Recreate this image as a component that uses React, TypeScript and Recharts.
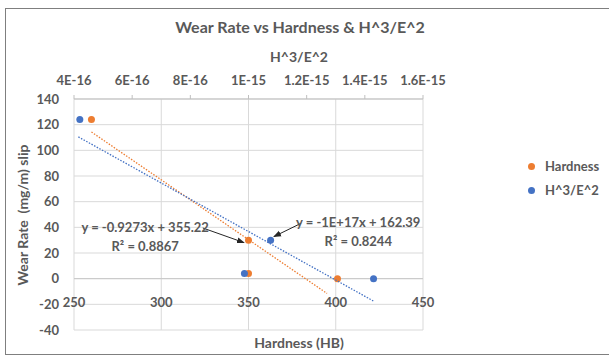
import React from "react";
import {
  ScatterChart,
  Scatter,
  XAxis,
  YAxis,
  CartesianGrid,
  Legend,
  ReferenceLine,
  ReferenceDot,
} from "recharts";

// measured points
const hardness = [260, 350, 350, 401];
const hardnessWear = [124, 30, 4, 0];
const h3e2 = [4.2e-16, 9.86e-16, 1.076e-15, 1.43e-15];
const h3e2Wear = [124, 4, 30, 0];

// span over which each trendline is drawn
const hardnessFitRange = [260, 395];
const h3e2FitRange = [4.15e-16, 1.43e-15];

const hardnessTicks = [250, 300, 350, 400, 450];
const h3e2Ticks = [4e-16, 6e-16, 8e-16, 1e-15, 1.2e-15, 1.4e-15, 1.6e-15];
const h3e2TickLabels = ["4E-16", "6E-16", "8E-16", "1E-15", "1.2E-15", "1.4E-15", "1.6E-15"];
const wearTicks = [-40, -20, 0, 20, 40, 60, 80, 100, 120, 140];
const legendOrder = ["Hardness", "H^3/E^2"];

const ORANGE = "#ED7D31";
const BLUE = "#4472C4";
const TEXT = "#595959";
const GRID = "#d9d9d9";
const FONT = "Lato, 'Open Sans', sans-serif";

function linearFit(xs: number[], ys: number[]) {
  const n = xs.length;
  const mx = xs.reduce((a, b) => a + b, 0) / n;
  const my = ys.reduce((a, b) => a + b, 0) / n;
  let sxy = 0;
  let sxx = 0;
  for (let i = 0; i < n; i++) {
    sxy += (xs[i] - mx) * (ys[i] - my);
    sxx += (xs[i] - mx) * (xs[i] - mx);
  }
  const m = sxy / sxx;
  return { m, b: my - m * mx };
}

const hardnessData = hardness.map((x, i) => ({ x, y: hardnessWear[i] }));
const h3e2Data = h3e2.map((x, i) => ({ x, y: h3e2Wear[i] }));

const hFit = linearFit(hardness, hardnessWear);
const eFit = linearFit(h3e2, h3e2Wear);
const hardnessTrend = hardnessFitRange.map((x) => ({ x, y: hFit.m * x + hFit.b }));
const h3e2Trend = h3e2FitRange.map((x) => ({ x, y: eFit.m * x + eFit.b }));

const dot = (color: string) => (p: any) => (
  <circle cx={p.cx} cy={p.cy} r={3.5} fill={color} />
);

const noDot = () => <g />;

const labelStyle = { fill: TEXT, fontSize: 13, fontWeight: 700, fontFamily: FONT };

function BottomTick(props: any) {
  const { x, y, payload } = props;
  return (
    <text x={x} y={y - 31} textAnchor="middle" {...labelStyle}>
      {payload.value}
    </text>
  );
}

function LegendBox(props: any) {
  const items = (props.payload || [])
    .filter((p: any) => p.type !== "none")
    .sort((a: any, b: any) => legendOrder.indexOf(a.value) - legendOrder.indexOf(b.value));
  return (
    <div style={{ fontFamily: FONT }}>
      {items.map((it: any) => (
        <div
          key={it.value}
          style={{ display: "flex", alignItems: "center", height: 24, color: TEXT, fontSize: 13, fontWeight: 700 }}
        >
          <span
            style={{ width: 7, height: 7, borderRadius: "50%", background: it.color, display: "inline-block", marginRight: 10 }}
          />
          {it.value}
        </div>
      ))}
    </div>
  );
}

export default function App() {
  return (
    <div
      style={{
        position: "absolute",
        left: 0,
        top: 0,
        width: 609,
        height: 357,
        overflow: "hidden",
        background: "#fff",
        fontFamily: FONT,
      }}
    >
      <div
        style={{
          position: "absolute",
          left: 5,
          top: 8,
          width: 620,
          height: 345,
          border: "1.5px solid #7f7f7f",
        }}
      />
      <div style={{ position: "absolute", left: 0, width: 600, top: 17, textAlign: "center", color: TEXT, fontSize: 16, fontWeight: 700 }}>
        Wear Rate vs Hardness &amp; H^3/E^2
      </div>
      <div style={{ position: "absolute", left: 0, width: 598, top: 48, textAlign: "center", color: TEXT, fontSize: 14, fontWeight: 700 }}>
        H^3/E^2
      </div>
      <div style={{ position: "absolute", left: 0, width: 598, top: 334, textAlign: "center", color: TEXT, fontSize: 14, fontWeight: 700 }}>
        Hardness (HB)
      </div>
      <div
        style={{
          position: "absolute",
          left: 22,
          top: 215,
          transform: "translate(-50%, -50%) rotate(-90deg)",
          whiteSpace: "pre",
          color: TEXT,
          fontSize: 14,
          fontWeight: 700,
        }}
      >
        {"Wear Rate  (mg/m) slip"}
      </div>
      <div style={{ position: "absolute", left: 0, top: 0 }}>
        <ScatterChart width={609} height={357} margin={{ top: 69, right: 86, bottom: 7, left: 14 }}>
          <defs>
            <marker id="arrowhead" markerWidth="8" markerHeight="8" refX="7" refY="4" orient="auto" markerUnits="userSpaceOnUse">
              <path d="M0,1 L8,4 L0,7 Z" fill="#262626" />
            </marker>
          </defs>
          <CartesianGrid xAxisId="bottom" stroke={GRID} strokeWidth={1} />
          <XAxis
            xAxisId="bottom"
            dataKey="x"
            type="number"
            orientation="bottom"
            domain={[250, 450]}
            ticks={hardnessTicks}
            axisLine={false}
            tickLine={false}
            height={20}
            tick={<BottomTick />}
          />
          <XAxis
            xAxisId="top"
            dataKey="x"
            type="number"
            orientation="top"
            domain={[4e-16, 1.6e-15]}
            ticks={h3e2Ticks}
            tickFormatter={(v: number, i: number) => h3e2TickLabels[i]}
            axisLine={{ stroke: "#bfbfbf" }}
            tickLine={{ stroke: "#bfbfbf" }}
            tickSize={4}
            tickMargin={10}
            height={30}
            tick={labelStyle}
            interval={0}
          />
          <YAxis
            dataKey="y"
            type="number"
            domain={[-40, 140]}
            ticks={wearTicks}
            axisLine={false}
            tickLine={false}
            tickSize={0}
            tickMargin={15}
            width={60}
            tick={labelStyle}
            interval={0}
          />
          <ReferenceLine xAxisId="bottom" y={0} stroke="#c8c8c8" />
          <Scatter
            name="Hardness"
            xAxisId="bottom"
            data={hardnessData}
            fill={ORANGE}
            shape={dot(ORANGE)}
            isAnimationActive={false}
          />
          <Scatter
            name="H^3/E^2"
            xAxisId="top"
            data={h3e2Data}
            fill={BLUE}
            shape={dot(BLUE)}
            isAnimationActive={false}
          />
          <Scatter
            name="Hardness trend"
            xAxisId="bottom"
            data={hardnessTrend}
            line={{ stroke: ORANGE, strokeWidth: 1.3, strokeDasharray: "1.5 1.5" }}
            shape={noDot}
            legendType="none"
            isAnimationActive={false}
          />
          <Scatter
            name="H^3/E^2 trend"
            xAxisId="top"
            data={h3e2Trend}
            line={{ stroke: BLUE, strokeWidth: 1.3, strokeDasharray: "1.5 1.5" }}
            shape={noDot}
            legendType="none"
            isAnimationActive={false}
          />
          <ReferenceLine
            xAxisId="bottom"
            segment={[{ x: 323.8, y: 39.5 }, { x: 347.4, y: 28.1 }]}
            stroke="#262626"
            strokeWidth={1}
            markerEnd="url(#arrowhead)"
          />
          <ReferenceLine
            xAxisId="bottom"
            segment={[{ x: 380.2, y: 43.2 }, { x: 364.6, y: 32.8 }]}
            stroke="#262626"
            strokeWidth={1}
            markerEnd="url(#arrowhead)"
          />
          <ReferenceDot
            xAxisId="bottom"
            x={290.8}
            y={39.8}
            r={0}
            stroke="none"
            label={{ value: "y = -0.9273x + 355.22", position: "center", ...labelStyle }}
          />
          <ReferenceDot
            xAxisId="bottom"
            x={290.8}
            y={25}
            r={0}
            stroke="none"
            label={{ value: "R\u00b2 = 0.8867", position: "center", ...labelStyle }}
          />
          <ReferenceDot
            xAxisId="bottom"
            x={412.9}
            y={43.7}
            r={0}
            stroke="none"
            label={{ value: "y = -1E+17x + 162.39", position: "center", ...labelStyle }}
          />
          <ReferenceDot
            xAxisId="bottom"
            x={412.9}
            y={28.9}
            r={0}
            stroke="none"
            label={{ value: "R\u00b2 = 0.8244", position: "center", ...labelStyle }}
          />
          <Legend
            layout="vertical"
            verticalAlign="top"
            align="right"
            content={<LegendBox />}
            wrapperStyle={{ position: "absolute", left: 528, top: 154, width: 100 }}
          />
        </ScatterChart>
      </div>
    </div>
  );
}
